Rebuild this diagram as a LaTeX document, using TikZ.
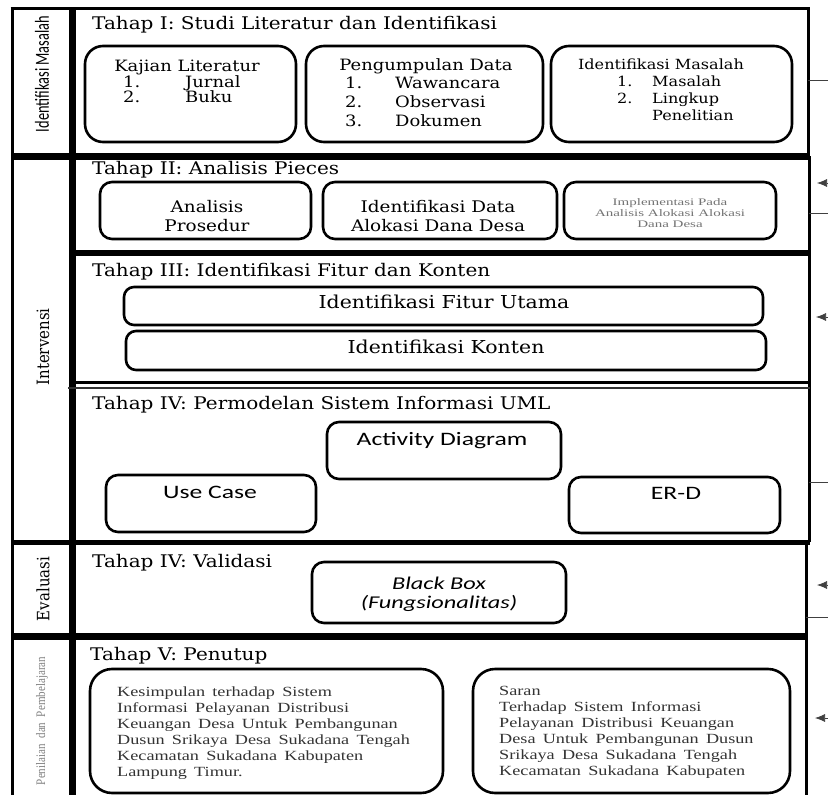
\documentclass[tikz,border=0pt]{standalone}
\usepackage{fontspec}
\usetikzlibrary{positioning,arrows.meta}
\newfontfamily\bodyfont[FakeStretch=1.15]{DejaVu Serif}
\newfontfamily\uifont[FakeStretch=1.35]{Carlito}
\newfontfamily\notefont[FakeStretch=1.3,WordSpace=1.6]{Liberation Serif}
\newfontfamily\tinyfont[FakeStretch=1.5]{Liberation Serif}
\newfontfamily\sidefont[FakeStretch=0.88]{DejaVu Serif}
\newfontfamily\sidesans[FakeStretch=0.72]{Carlito}
\newfontfamily\sidetiny[FakeStretch=0.85,WordSpace=2]{Liberation Serif}

\tikzset{
  frame/.style={line width=3pt},
  stagebox/.style={draw, line width=2.6pt, inner sep=0pt},
  title/.style={anchor=west, inner sep=0pt, text height=1.5ex, text depth=.3ex, font=\bodyfont\fontsize{17.4}{20}\selectfont},
  txt/.style={inner sep=0pt, text height=1.5ex, text depth=.3ex},
  para/.style={inner sep=0pt, align=center},
  fb/.style={line width=0.7pt, black!75},
  fbin/.style={fb, -{Latex[length=10pt,width=8pt]}},
}

\begin{document}
\begin{tikzpicture}[x=1pt, y=-1pt]
    \fill[white](0,0) rectangle (828,795);
    \useasboundingbox(0,0) rectangle (828,795);
    % kerangka
    \draw[frame](10.5,8)--(809.5,8);
    \draw[frame](12,8)--(12,800);
    \draw[frame](808,8)--(808,156);
    \draw[frame](809,156)--(809,542);
    \draw[frame](806,542)--(806,800);
    \draw[line width=7pt](72,8)--(72,800);
    \draw[line width=7pt](12,156)--(810,156);
    \draw[line width=6pt](72,253)--(810,253);
    \draw[frame](72,382)--(810,382);
    \draw[line width=2pt, black!80](68,388)--(810,388);
    \draw[line width=5pt](12,542)--(810,542);
    \draw[line width=7pt](12,636)--(807,636);

    % label kiri
    \node[rotate=90, inner sep=0pt, font=\sidesans\fontsize{20}{20}\selectfont](lblmasalah) at (42,74){Identifikasi Masalah};
    \node[rotate=90, inner sep=0pt, font=\sidefont\fontsize{17}{17}\selectfont](lblintervensi) at (43,347){Intervensi};
    \node[rotate=90, inner sep=0pt, font=\sidefont\fontsize{17}{17}\selectfont](lblevaluasi) at (43,589){Evaluasi};
    \node[rotate=90, inner sep=0pt, black!50, font=\sidetiny\fontsize{13}{13}\selectfont](lblpenilaian) at (42,721){Penilaian dan Pembelajaran};

    % Tahap I
    \node[title](tahap1) at (92,27){Tahap I: Studi Literatur dan Identifikasi};
    \node[stagebox, rounded corners=18pt, minimum width=211pt, minimum height=96pt](kajian) at (190.5,94){};
    \node[stagebox, rounded corners=18pt, minimum width=237pt, minimum height=96pt](kumpul) at (424.5,94){};
    \node[stagebox, rounded corners=18pt, minimum width=241pt, minimum height=96pt](masalah) at (671.5,94){};
    \tikzset{txt/.append style={font=\bodyfont\fontsize{15.6}{18}\selectfont}}
    \node[txt](kajianjdl) at (187,69){Kajian Literatur};
    \node[txt, anchor=west](kajian1) at (123,85){\makebox[62pt][l]{1.}Jurnal};
    \node[txt, anchor=west](kajian2) at (123,100){\makebox[62pt][l]{2.}Buku};
    \node[txt](kumpuljdl) at (426,68){Pengumpulan Data};
    \node[txt, anchor=west](kumpul1) at (345,86){\makebox[50pt][l]{1.}Wawancara};
    \node[txt, anchor=west](kumpul2) at (345,105){\makebox[50pt][l]{2.}Observasi};
    \node[txt, anchor=west](kumpul3) at (345,124){\makebox[50pt][l]{3.}Dokumen};
    \tikzset{txt/.append style={font=\bodyfont\fontsize{14}{16}\selectfont}}
    \node[txt](masalahjdl) at (661,67){Identifikasi Masalah};
    \node[txt, anchor=west](masalah1) at (617,84){\makebox[35pt][l]{1.}Masalah};
    \node[txt, anchor=west](masalah2) at (617,101){\makebox[35pt][l]{2.}Lingkup};
    \node[txt, anchor=west](masalah3) at (652,118){Penelitian};

    % Tahap II
    \node[title](tahap2) at (92,172){Tahap II: Analisis Pieces};
    \node[stagebox, rounded corners=12pt, minimum width=211pt, minimum height=57pt](prosedur) at (205.5,210.5){};
    \node[stagebox, rounded corners=12pt, minimum width=234pt, minimum height=57pt](datadesa) at (440,210.5){};
    \node[stagebox, rounded corners=12pt, minimum width=212pt, minimum height=57pt](implementasi) at (670,210.5){};
    \node[para, font=\bodyfont\fontsize{16}{19}\selectfont](prosedurtxt) at (207,216.5){Analisis\\Prosedur};
    \node[para, font=\bodyfont\fontsize{16}{19}\selectfont](datadesatxt) at (438,216.5){Identifikasi Data\\Alokasi Dana Desa};
    \node[para, black!55, font=\tinyfont\fontsize{10}{11}\selectfont](implementasitxt) at (670,213.5){Implementasi Pada\\Analisis Alokasi Alokasi\\Dana Desa};

    % Tahap III
    \node[title](tahap3) at (92,274){Tahap III: Identifikasi Fitur dan Konten};
    \node[stagebox, rounded corners=10pt, minimum width=639pt, minimum height=38pt](fitur) at (443.5,306){};
    \node[stagebox, rounded corners=10pt, minimum width=640pt, minimum height=39pt](konten) at (446,350.5){};
    \tikzset{txt/.append style={font=\bodyfont\fontsize{17.8}{20}\selectfont}}
    \node[txt](fiturtxt) at (444,306){Identifikasi Fitur Utama};
    \node[txt](kontentxt) at (446,351){Identifikasi Konten};

    % Tahap IV
    \node[title](tahap4) at (92,407){Tahap IV: Permodelan Sistem Informasi UML};
    \node[stagebox, rounded corners=12pt, minimum width=234pt, minimum height=57pt](activity) at (444,450.5){};
    \node[stagebox, rounded corners=12pt, minimum width=210pt, minimum height=57pt](usecase) at (211,503.5){};
    \node[stagebox, rounded corners=12pt, minimum width=211pt, minimum height=56pt](erd) at (674.5,505){};
    \tikzset{txt/.append style={font=\uifont\fontsize{19}{21}\selectfont}}
    \node[txt](activitytxt) at (442,443){Activity Diagram};
    \node[txt](usecasetxt) at (210,496){Use Case};
    \node[txt](erdtxt) at (676,497){ER-D};

    % Tahap IV validasi
    \node[title](tahap5) at (92,565){Tahap IV: Validasi};
    \node[stagebox, rounded corners=12pt, minimum width=254pt, minimum height=61pt](blackbox) at (439,592.5){};
    \node[para, font=\uifont\itshape\fontsize{18}{19}\selectfont](blackboxtxt) at (439,594.5){Black Box\\(Fungsionalitas)};

    % Tahap V
    \node[title](tahap6) at (90,658){Tahap V: Penutup};
    \node[stagebox, rounded corners=22pt, minimum width=353pt, minimum height=124pt](simpulan) at (266.5,731){};
    \node[stagebox, rounded corners=22pt, minimum width=317pt, minimum height=124pt](saran) at (631.5,731){};
    \node[inner sep=0pt, anchor=north west, align=left, black!80, font=\notefont\fontsize{14}{16}\selectfont](simpulantxt) at (117,687){Kesimpulan terhadap Sistem\\Informasi Pelayanan Distribusi\\Keuangan Desa Untuk Pembangunan\\Dusun Srikaya Desa Sukadana Tengah\\Kecamatan Sukadana Kabupaten\\Lampung Timur.};
    \node[inner sep=0pt, anchor=north west, align=left, black!80, font=\notefont\fontsize{14}{16}\selectfont](sarantxt) at (499,686){Saran\\Terhadap Sistem Informasi\\Pelayanan Distribusi Keuangan\\Desa Untuk Pembangunan Dusun\\Srikaya Desa Sukadana Tengah\\Kecamatan Sukadana Kabupaten};

    % umpan balik di kanan
    \coordinate(out1) at (808,80);   \coordinate(out1e) at (840,80);
    \coordinate(in1) at (817,183);   \coordinate(in1s) at (840,183);
    \coordinate(out2) at (809,213);  \coordinate(out2e) at (840,213);
    \coordinate(in2) at (816,317);   \coordinate(in2s) at (840,317);
    \coordinate(out3) at (809,482);  \coordinate(out3e) at (840,482);
    \coordinate(in3) at (817,585);   \coordinate(in3s) at (840,585);
    \coordinate(out4) at (806,617);  \coordinate(out4e) at (840,617);
    \coordinate(in4) at (815,718);   \coordinate(in4s) at (840,718);
    \draw[fb](out1)--(out1e);
    \draw[fbin](in1s)--(in1);
    \draw[fb](out2)--(out2e);
    \draw[fbin](in2s)--(in2);
    \draw[fb](out3)--(out3e);
    \draw[fbin](in3s)--(in3);
    \draw[fb](out4)--(out4e);
    \draw[fbin](in4s)--(in4);
\end{tikzpicture}
\end{document}
